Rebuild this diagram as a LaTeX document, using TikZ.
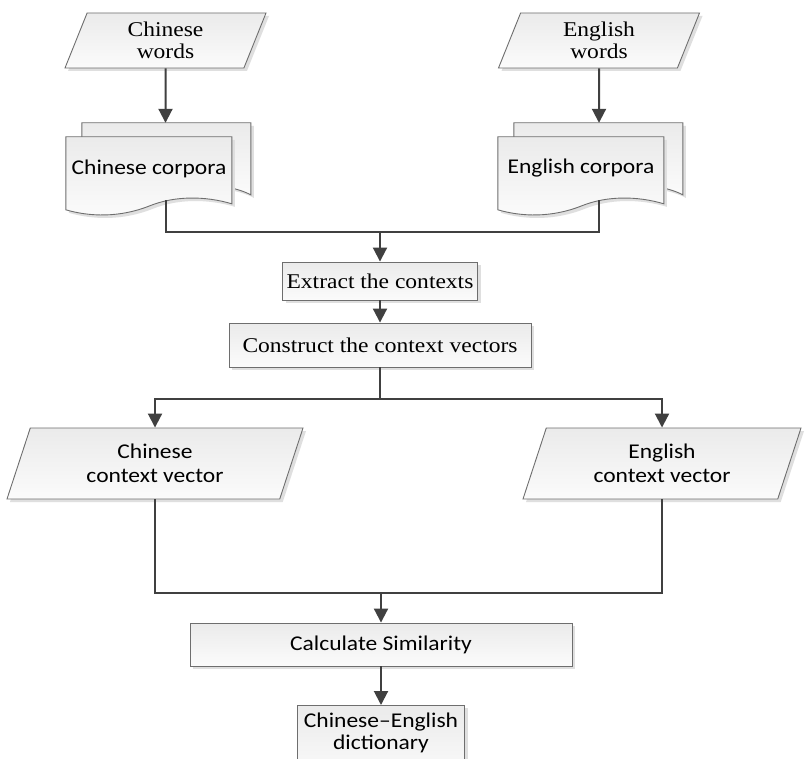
\documentclass[tikz,border=0pt]{standalone}
\usepackage{fontspec}
\setmainfont[FakeStretch=1.12]{Liberation Serif}
\newfontfamily\calfont[FakeStretch=1.12]{Carlito}
\usetikzlibrary{shapes.geometric,arrows.meta,shadows,backgrounds}

\definecolor{linec}{HTML}{404040}
\definecolor{edgec}{HTML}{6E6E6E}

\tikzset{
  shape fill/.style={top color=gray!16, bottom color=gray!3, draw=edgec, line width=0.9pt},
  shadowed/.style={drop shadow={shadow xshift=3pt, shadow yshift=-3pt, fill=gray!25, opacity=1}},
  serif text/.style={font=\fontsize{21}{22}\selectfont},
  sans text/.style={font=\calfont\fontsize{21}{24}\selectfont},
  procbox/.style={rectangle, shape fill, shadowed, inner sep=0pt, align=center},
  iobox/.style={trapezium, trapezium left angle=59, trapezium right angle=121,
    trapezium stretches body, shape fill, shadowed, inner sep=0pt, align=center},
  docnode/.style={rectangle, inner sep=0pt, minimum width=166pt, minimum height=63pt, sans text},
  line/.style={draw=linec, line width=2pt},
  arr/.style={line, -{Triangle[length=14pt,width=14pt]}},
}

% Stacked document pages drawn behind a document node (front page = node box)
\newcommand{\corpuspages}[1]{%
  \begin{scope}[shift={(#1.north west)}]
    \coordinate (#1-back) at (16,-14);
    \path[fill=gray!25] (19,-11) -- (188,-11) -- (188,61)
      .. controls (180,57) and (173,55) .. (163,53) -- (19,53) -- cycle;
    \path[shape fill] (16,-14) -- (185,-14) -- (185,58)
      .. controls (177,54) and (170,52) .. (160,50) -- (16,50) -- cycle;
    \path[fill=gray!25] (3,3) -- (169,3) -- (169,70)
      .. controls (142,62) and (112,62) .. (87,72)
      .. controls (57,84) and (27,83) .. (3,76) -- cycle;
    \path[shape fill] (0,0) -- (166,0) -- (166,67)
      .. controls (139,59) and (109,59) .. (84,69)
      .. controls (54,81) and (24,80) .. (0,73) -- cycle;
  \end{scope}}

\begin{document}
\begin{tikzpicture}[x=1pt,y=-1pt]
  \clip (0,0) rectangle (805,759);

  % inputs
  \node[iobox, serif text, minimum width=201pt, minimum height=55pt] (cw) at (165.5,40.5) {Chinese\\words};
  \node[iobox, serif text, minimum width=201pt, minimum height=55pt] (ew) at (599,40.5) {English\\words};

  % corpora
  \node[docnode] (cc) at (149,168.5) {Chinese corpora};
  \node[docnode] (ec) at (581,168.5) {English corpora};
  \begin{pgfonlayer}{background}
    \fill[white] (0,0) rectangle (805,759);
    \corpuspages{cc}
    \corpuspages{ec}
  \end{pgfonlayer}

  % processing steps
  \node[procbox, serif text, minimum width=195pt, minimum height=38pt] (ex) at (380,281) {Extract the contexts};
  \node[procbox, serif text, minimum width=302pt, minimum height=44pt] (cv) at (380,345) {Construct the context vectors};

  % context vectors
  \node[iobox, sans text, minimum width=296pt, minimum height=71pt] (ccv) at (155,463.5) {Chinese\\context vector};
  \node[iobox, sans text, minimum width=278pt, minimum height=71pt] (ecv) at (662,463.5) {English\\context vector};

  % similarity and result
  \node[procbox, sans text, minimum width=382pt, minimum height=43pt] (cs) at (381,644.5) {Calculate Similarity};
  \node[procbox, sans text, font=\calfont\fontsize{21}{22}\selectfont, minimum width=167pt, anchor=north, inner ysep=7pt]
    (dict) at (381,705) {Chinese–English\\dictionary\rule[-24pt]{0pt}{0pt}};

  % junction points
  \coordinate (j1) at (380,232);
  \coordinate (j2) at (380,399);
  \coordinate (j3) at (381,593);

  % connectors
  \draw[arr] (cw) -- (cw |- cc-back);
  \draw[arr] (ew) -- (ew |- ec-back);
  \draw[line] (cw |- cc.south) |- (j1) -| (ew |- ec.south);
  \draw[arr] (j1) -- (ex);
  \draw[arr] (ex) -- (cv);
  \draw[line] (cv) -- (j2);
  \draw[arr] (j2) -| (ccv);
  \draw[arr] (j2) -| (ecv);
  \draw[line] (ccv) |- (j3);
  \draw[line] (ecv) |- (j3);
  \draw[arr] (j3) -- (cs);
  \draw[arr] (cs) -- (dict);
\end{tikzpicture}
\end{document}
